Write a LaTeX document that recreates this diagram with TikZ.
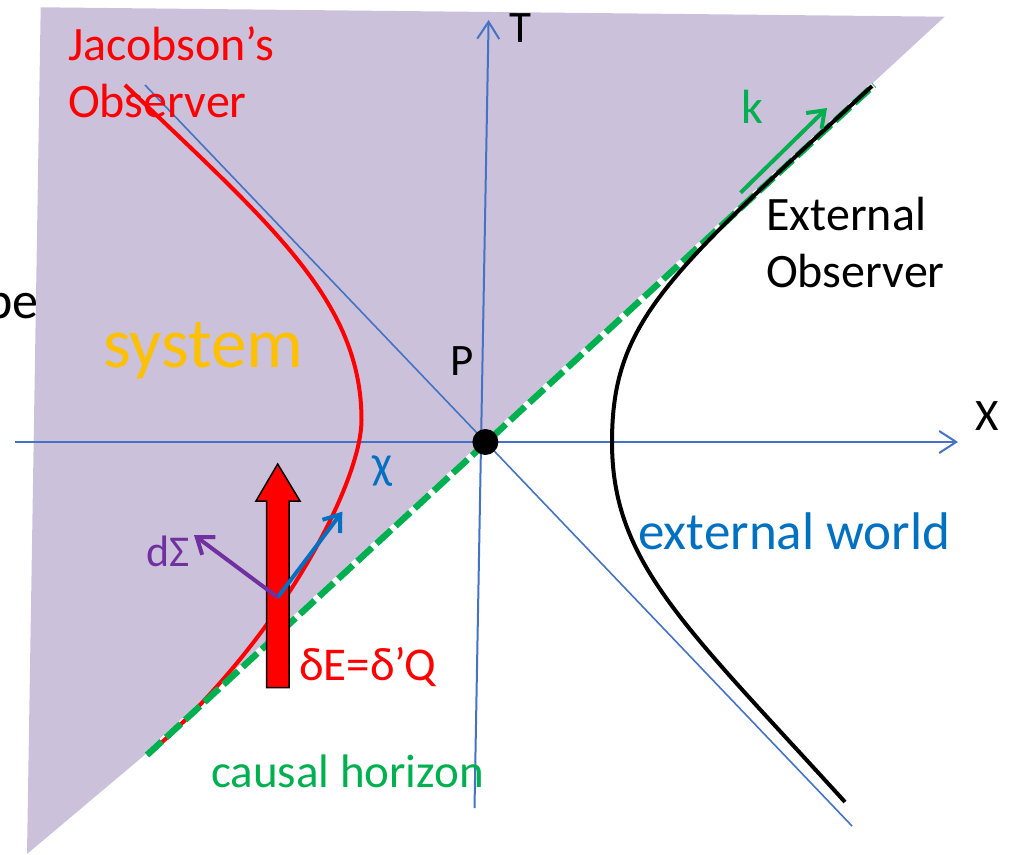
\documentclass[tikz,border=0pt]{standalone}
\usepackage{fontspec}
\setmainfont{Carlito}
\usetikzlibrary{arrows.meta}
\definecolor{sysfill}{RGB}{204,193,218}
\definecolor{axisblue}{RGB}{68,114,196}
\definecolor{chiblue}{RGB}{0,112,192}
\definecolor{hgreen}{RGB}{0,176,80}
\definecolor{sysorange}{RGB}{255,192,0}
\definecolor{dspurple}{RGB}{112,48,160}
\newcommand\setfs[1]{\fontsize{#1}{#1}\selectfont}
\begin{document}
\begin{tikzpicture}[x=1pt,y=-1pt,
  lbl/.style={inner sep=0pt, anchor=base west},
  axis/.style={draw=axisblue, line width=2pt, -{Straight Barb[length=17pt,width=22pt]}},
  thinline/.style={draw=axisblue, line width=1.6pt},
  vec/.style={line width=4pt, -{Straight Barb[length=15pt,width=22pt]}}]
\clip (0,0) rectangle (1009,854);
% system region
\fill[sysfill] (40.7,7.3) -- (944.6,16.7) -- (485,441) -- (147,753) -- (27,854) -- cycle;
% coordinates
\coordinate (Tbot) at (474.5,808);
\coordinate (Ttop) at (488.6,20);
\coordinate (Xl) at (15,442);
\coordinate (Xr) at (958,442);
\coordinate (Dtop) at (145,85);
\coordinate (Dbot) at (852,826);
\coordinate (Hlo) at (147,755);
\coordinate (Hhi) at (874,85);
% axes
\draw[axis] (Tbot) -- (Ttop);
\draw[axis] (Xl) -- (Xr);
\draw[thinline] (Dtop) -- (Dbot);
% horizon underlay
\draw[white, line width=6.5pt] (Hlo) -- (Hhi);
% Jacobson's observer worldline
\coordinate (Jtop) at (125,85);
\coordinate (Jmid) at (361.5,420);
\coordinate (Jbot) at (150,753);
\draw[red, line width=4pt] (Jtop) .. controls (269.2,223.4) and (361.5,300) .. (Jmid)
  .. controls (361.5,480) and (285,634.2) .. (Jbot);
% causal horizon
\draw[hgreen, line width=6.5pt, dash pattern=on 20pt off 6pt] (Hlo) -- (Hhi);
% external observer worldline
\coordinate (Etop) at (872,86);
\coordinate (Emid) at (612,442);
\coordinate (Ebot) at (845,802);
\draw[black, line width=4pt] (Etop) .. controls (666,275.6) and (612,322) .. (Emid)
  .. controls (612,562) and (683.5,624.6) .. (Ebot);
% point P
\node[circle, fill=black, inner sep=0pt, minimum size=26pt] (P) at (485.4,442) {};
% heat flux arrow
\draw[fill=red, draw=black, line width=1.5pt] (266.7,687.7) -- (266.7,501) -- (256,501)
  -- (277.7,464) -- (300,501) -- (289,501) -- (289,687.7) -- cycle;
% small vectors
\coordinate (O) at (277.7,597.3);
\coordinate (chitip) at (342.3,511.7);
\coordinate (dstip) at (194,535);
\draw[vec, chiblue] (O) -- (chitip);
\draw[vec, dspurple] (O) -- (dstip);
\coordinate (k0) at (740.6,192.7);
\coordinate (k1) at (827,108);
\draw[vec, hgreen] (k0) -- (k1);
% labels
\node[lbl, text=red, font=\setfs{48}] (jac1) at (68,60) {Jacobson’s};
\node[lbl, text=red, font=\setfs{48}] (jac2) at (68,117) {Observer};
\node[lbl, text=sysorange, font=\setfs{71}] (sys) at (103,367) {system};
\node[inner sep=0pt, anchor=base east, font=\setfs{52}] (be) at (39,318) {be};
\node[lbl, font=\setfs{45}] (Plbl) at (450,375) {P};
\node[lbl, font=\setfs{45}] (Tlbl) at (509,42) {T};
\node[lbl, font=\setfs{45}] (Xlbl) at (975,430) {X};
\node[lbl, text=hgreen, font=\setfs{48}] (klbl) at (741,123) {k};
\node[lbl, font=\setfs{48}] (ext1) at (766,230) {External};
\node[lbl, font=\setfs{48}] (ext2) at (766,287) {Observer};
\node[lbl, text=chiblue, font=\setfs{53}] (world) at (638,549) {external world};
\node[lbl, text=hgreen, font=\setfs{47}] (causal) at (211,787) {causal horizon};
\node[lbl, text=red, font=\setfs{47}] (dE) at (299,680) {δE=δ’Q};
\node[lbl, text=dspurple, font=\setfs{44}] (dS) at (146,566) {dΣ};
\node[lbl, text=chiblue, font=\setfs{47}] (chi) at (372,478) {χ};
\end{tikzpicture}
\end{document}
